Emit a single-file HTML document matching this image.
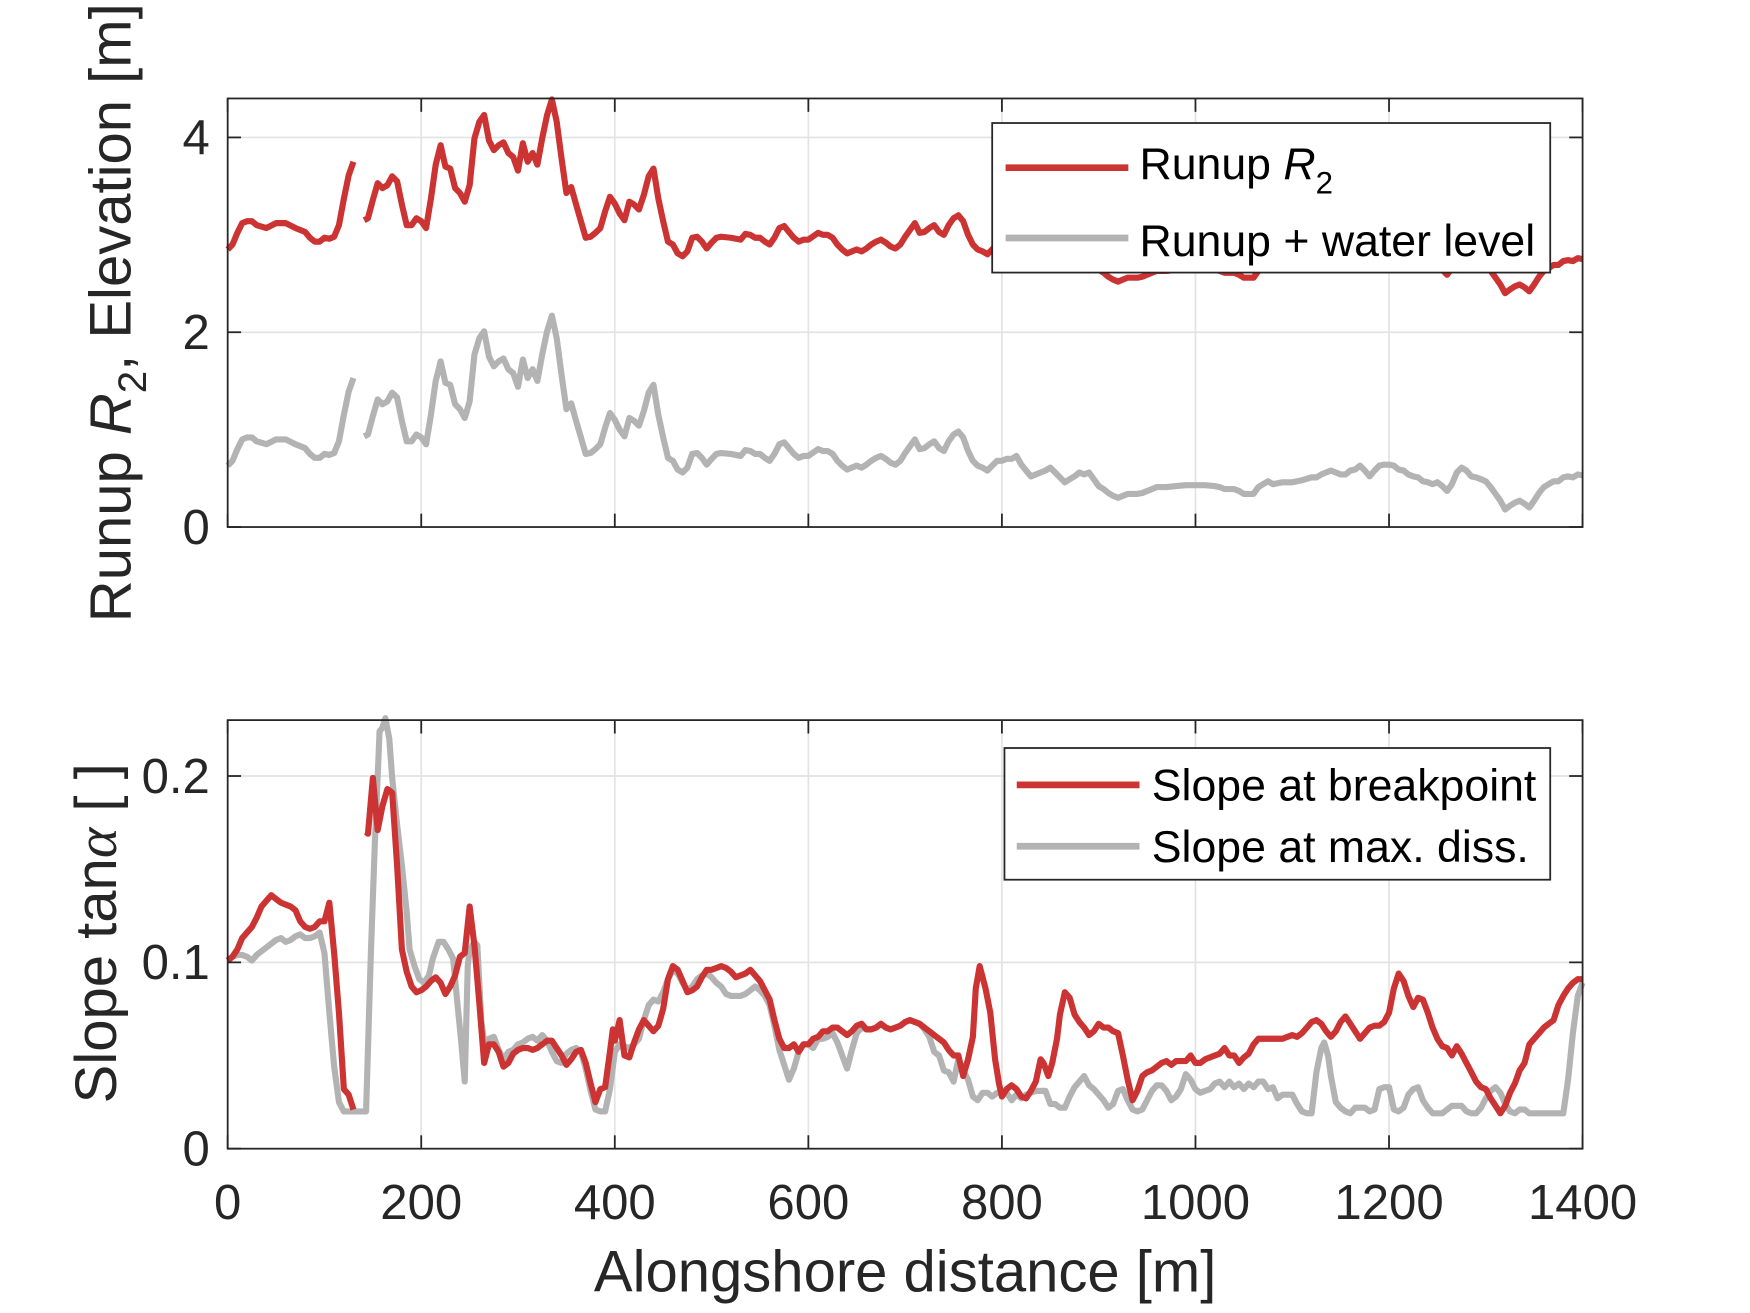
<!DOCTYPE html>
<html><head><meta charset="utf-8"><style>
html,body{margin:0;padding:0;background:#fff;}
svg{display:block;font-family:"Liberation Sans",sans-serif;}
</style></head><body>
<svg id="fig" width="1750" height="1313" viewBox="0 0 1568 1176" xmlns="http://www.w3.org/2000/svg">
<rect x="0" y="0" width="1568" height="1176" fill="#fff"/>
<g id="top"></g>
<g id="bot"></g>
</svg>
<script>
const xTicks = [0,200,400,600,800,1000,1200,1400];
const xTickLabels = ["0","200","400","600","800","1000","1200","1400"];
const topYTicks = [0,2,4];
const topYTickLabels = ["0","2","4"];
const botYTicks = [0,0.1,0.2];
const botYTickLabels = ["0","0.1","0.2"];

const topX = [0,5,10,15,20,25,30,40,50,60,70,80,85,90,95,100,105,110,115,120,125,130,135,141,145,
150,155,160,165,170,175,180,185,190,195,200,205,210,215,220,225,230,235,240,245,250,255,260,265,270,275,280,285,290,295,300,305,310,315,320,325,330,335,340,345,350,355,360,365,370,375,380,385,390,395,400,405,410,415,420,425,430,435,440,445,450,455,460,465,470,475,480,485,490,495,500,505,510,
520,530,535,540,545,550,555,560,565,570,575,580,585,590,595,600,610,615,620,625,630,635,640,
650,655,660,665,670,675,680,685,690,695,700,
710,715,720,725,730,735,740,745,750,755,760,765,770,775,780,785,790,795,800,805,810,815,820,825,830,835,840,845,850,855,860,865,870,875,880,885,890,895,900,905,910,915,920,925,930,935,940,945,950,955,960,965,970,
980,990,1000,1010,1020,1025,1030,1040,1045,1050,1055,1060,1065,1070,1075,1080,1090,1100,1110,1120,
1125,1130,1135,1140,1145,1150,1155,1160,1165,1170,1175,1180,1185,1190,1195,1200,1205,1210,1215,1220,1225,1230,1235,1240,1245,1250,1255,1260,1265,1270,1275,1280,1285,1290,1295,1300,1305,1310,1315,1320,1325,1330,1335,1340,1345,1350,1355,1360,1365,1370,1375,1380,1385,1390,1395,1400];
const runupR2 = [2.85,2.90,3.02,3.12,3.14,3.14,3.10,3.07,3.12,3.12,3.07,3.03,2.97,2.93,2.93,2.97,2.96,2.98,3.10,3.37,3.61,3.75,null,3.15,3.17,
3.36,3.53,3.48,3.51,3.60,3.55,3.31,3.10,3.10,3.17,3.14,3.07,3.37,3.72,3.92,3.70,3.68,3.48,3.43,3.34,3.51,3.99,4.16,4.23,3.97,3.87,3.92,3.95,3.84,3.80,3.66,3.94,3.75,3.84,3.72,3.99,4.23,4.39,4.16,3.78,3.43,3.49,3.31,3.14,2.97,2.98,3.02,3.07,3.24,3.39,3.32,3.22,3.15,3.34,3.31,3.26,3.41,3.60,3.68,3.37,3.14,2.93,2.90,2.81,2.78,2.83,2.97,2.98,2.93,2.86,2.92,2.97,2.98,
2.97,2.95,3.01,3.00,2.97,2.97,2.93,2.90,2.97,3.07,3.09,3.03,2.97,2.93,2.95,2.95,3.02,3.00,3.00,2.97,2.90,2.85,2.81,
2.85,2.83,2.86,2.90,2.93,2.95,2.92,2.88,2.86,2.90,2.98,
3.12,3.02,3.03,3.07,3.10,3.03,3.00,3.10,3.17,3.20,3.14,3.00,2.90,2.85,2.83,2.80,2.85,2.90,2.90,2.92,2.92,2.95,2.86,2.80,2.74,2.76,2.78,2.80,2.83,2.78,2.73,2.68,2.71,2.74,2.78,2.76,2.78,2.71,2.64,2.61,2.57,2.54,2.52,2.54,2.56,2.56,2.56,2.57,2.59,2.61,2.63,2.63,2.63,
2.64,2.65,2.65,2.65,2.64,2.63,2.61,2.61,2.59,2.56,2.56,2.56,2.63,2.66,2.69,2.66,2.68,2.68,2.70,2.73,
2.73,2.76,2.78,2.80,2.78,2.76,2.76,2.80,2.81,2.85,2.80,2.74,2.80,2.85,2.86,2.86,2.85,2.81,2.80,2.76,2.74,2.73,2.69,2.68,2.66,2.68,2.64,2.59,2.66,2.78,2.83,2.80,2.74,2.73,2.71,2.69,2.63,2.56,2.49,2.40,2.44,2.47,2.49,2.46,2.42,2.49,2.57,2.63,2.66,2.69,2.69,2.73,2.74,2.73,2.76,2.75];
const runupWL = [0.63,0.68,0.80,0.90,0.92,0.92,0.88,0.85,0.90,0.90,0.85,0.81,0.75,0.71,0.71,0.75,0.74,0.76,0.88,1.15,1.39,1.53,null,0.93,0.95,
1.14,1.31,1.26,1.29,1.38,1.33,1.09,0.88,0.88,0.95,0.92,0.85,1.15,1.50,1.70,1.48,1.46,1.26,1.21,1.12,1.29,1.77,1.94,2.01,1.75,1.65,1.70,1.73,1.62,1.58,1.44,1.72,1.53,1.62,1.50,1.77,2.01,2.17,1.94,1.56,1.21,1.27,1.09,0.92,0.75,0.76,0.80,0.85,1.02,1.17,1.10,1.00,0.93,1.12,1.09,1.04,1.19,1.38,1.46,1.15,0.92,0.71,0.68,0.59,0.56,0.61,0.75,0.76,0.71,0.64,0.70,0.75,0.76,
0.75,0.73,0.79,0.78,0.75,0.75,0.71,0.68,0.75,0.85,0.87,0.81,0.75,0.71,0.73,0.73,0.80,0.78,0.78,0.75,0.68,0.63,0.59,
0.63,0.61,0.64,0.68,0.71,0.73,0.70,0.66,0.64,0.68,0.76,
0.90,0.80,0.81,0.85,0.88,0.81,0.78,0.88,0.95,0.98,0.92,0.78,0.68,0.63,0.61,0.58,0.63,0.68,0.68,0.70,0.70,0.73,0.64,0.58,0.52,0.54,0.56,0.58,0.61,0.56,0.51,0.46,0.49,0.52,0.56,0.54,0.56,0.49,0.42,0.39,0.35,0.32,0.30,0.32,0.34,0.34,0.34,0.35,0.37,0.39,0.41,0.41,0.41,
0.42,0.43,0.43,0.43,0.42,0.41,0.39,0.39,0.37,0.34,0.34,0.34,0.41,0.44,0.47,0.44,0.46,0.46,0.48,0.51,
0.51,0.54,0.56,0.58,0.56,0.54,0.54,0.58,0.59,0.63,0.58,0.52,0.58,0.63,0.64,0.64,0.63,0.59,0.58,0.54,0.52,0.51,0.47,0.46,0.44,0.46,0.42,0.37,0.44,0.56,0.61,0.58,0.52,0.51,0.49,0.47,0.41,0.34,0.27,0.18,0.22,0.25,0.27,0.24,0.20,0.27,0.35,0.41,0.44,0.47,0.47,0.51,0.52,0.51,0.54,0.53];

const slopeBpX = [0,5,10,15,20,25,30,35,40,45,50,55,60,65,70,75,80,85,90,95,100,105,110,115,120,125,130,137,143,145,
150,155,160,165,170,175,180,185,190,195,200,205,210,215,220,225,230,235,240,245,250,255,260,265,270,275,280,285,290,295,300,305,310,315,320,325,330,335,340,345,350,355,360,365,370,375,380,385,390,395,398,
400,405,410,415,420,425,430,435,440,445,450,455,460,465,470,475,480,485,490,495,500,505,510,515,520,525,530,535,540,545,550,555,560,565,570,575,580,585,590,595,600,605,610,615,620,625,630,635,640,645,650,655,660,665,670,675,680,685,690,695,700,705,710,715,720,725,730,735,740,745,750,755,760,765,770,
773,777,783,788,793,797,800,805,810,815,820,825,830,835,840,843,848,852,857,860,865,870,875,880,885,890,895,900,905,910,915,920,925,930,935,940,945,950,955,960,965,970,975,980,985,990,995,1000,1005,1010,1015,1020,1025,1030,1035,1040,1045,1050,1055,1060,1065,
1070,1075,1080,1085,1090,1095,1100,1105,1110,1115,1120,1125,1130,1135,1140,1145,1150,1155,1160,1165,1170,1175,1180,1185,1190,1195,1200,1205,1210,1215,1220,1225,1230,1235,1240,1245,1250,1255,1260,1265,1270,1275,1280,1285,1290,1295,1300,1305,1310,1315,1320,1325,1330,1335,1340,1345,1350,1355,1360,1365,1370,1375,1380,1385,1390,1395,1400];
const slopeBp = [0.101,0.103,0.107,0.113,0.116,0.119,0.124,0.130,0.133,0.136,0.134,0.132,0.131,0.130,0.128,0.122,0.119,0.118,0.119,0.122,0.122,0.132,0.105,0.073,0.032,0.029,0.021,null,0.170,0.169,
0.199,0.171,0.184,0.193,0.191,0.152,0.107,0.095,0.087,0.084,0.085,0.087,0.090,0.092,0.089,0.083,0.087,0.093,0.103,0.105,0.130,0.109,0.078,0.046,0.056,0.056,0.052,0.044,0.046,0.051,0.053,0.054,0.054,0.053,0.054,0.056,0.058,0.058,0.054,0.050,0.045,0.048,0.052,0.053,0.046,0.035,0.025,0.032,0.033,0.052,0.064,
0.058,0.069,0.050,0.049,0.057,0.064,0.069,0.066,0.063,0.066,0.075,0.091,0.098,0.096,0.090,0.084,0.085,0.087,0.092,0.096,0.096,0.097,0.098,0.097,0.095,0.092,0.093,0.094,0.096,0.093,0.090,0.085,0.080,0.069,0.059,0.054,0.054,0.056,0.052,0.056,0.056,0.059,0.060,0.063,0.063,0.065,0.065,0.063,0.061,0.063,0.066,0.067,0.064,0.064,0.065,0.067,0.065,0.064,0.065,0.066,0.068,0.069,0.068,0.067,0.065,0.063,0.061,0.059,0.057,0.053,0.050,0.050,0.039,0.048,0.060,
0.086,0.098,0.086,0.073,0.048,0.035,0.028,0.032,0.034,0.032,0.028,0.027,0.031,0.036,0.048,0.046,0.039,0.046,0.059,0.072,0.084,0.081,0.072,0.068,0.065,0.061,0.063,0.067,0.065,0.065,0.063,0.062,0.050,0.037,0.026,0.031,0.039,0.041,0.042,0.044,0.046,0.047,0.045,0.047,0.047,0.047,0.050,0.046,0.046,0.048,0.049,0.050,0.051,0.054,0.050,0.050,0.046,0.049,0.051,0.056,0.059,
0.059,0.059,0.059,0.059,0.059,0.060,0.061,0.060,0.062,0.065,0.068,0.069,0.067,0.063,0.060,0.063,0.068,0.071,0.067,0.063,0.059,0.062,0.065,0.066,0.066,0.068,0.073,0.086,0.094,0.090,0.082,0.076,0.081,0.080,0.073,0.065,0.059,0.055,0.054,0.050,0.055,0.051,0.046,0.041,0.036,0.033,0.032,0.027,0.023,0.019,0.023,0.030,0.035,0.042,0.046,0.056,0.059,0.062,0.065,0.067,0.069,0.077,0.082,0.086,0.089,0.091,0.091];

const slopeMdX = [0,5,10,15,20,25,30,35,40,45,50,55,60,65,70,75,80,85,90,95,100,105,110,115,120,125,130,135,140,143,148,152,157,160,163,167,170,175,180,185,188,193,198,203,208,212,218,223,228,233,237,241,245,248,250,255,258,262,
265,270,275,280,285,290,295,300,305,310,315,320,325,330,335,340,345,350,355,360,365,370,375,380,385,390,395,400,405,410,415,420,425,430,435,440,445,450,455,460,465,470,475,480,485,490,495,500,505,510,515,520,525,530,535,540,545,550,555,560,565,570,575,580,585,590,595,600,605,610,615,620,625,630,635,640,645,650,655,660,665,670,675,680,685,690,695,700,705,710,715,720,725,730,735,740,745,750,755,760,765,770,775,780,785,790,795,800,805,810,815,820,825,830,835,840,845,850,855,860,865,870,875,880,885,890,895,900,905,910,915,920,925,930,935,940,945,950,955,960,965,970,975,980,985,990,995,1000,1005,1010,1015,1020,1025,1030,1035,1040,1045,1050,1055,1060,1065,1070,1075,1080,1085,1090,1095,1100,1105,1110,1115,1120,1125,1130,1133,1137,1140,1145,1150,1155,1160,1165,1170,1175,1180,1185,1190,1195,1200,1205,1210,1215,1220,1225,1230,1235,1240,1245,1250,1255,1260,1265,1270,1275,1280,1285,1290,1295,1300,1305,1310,1315,1320,1325,1330,1335,1340,1345,1350,1360,1370,1380,1385,1390,1395,1400];
const slopeMd = [0.101,0.103,0.104,0.104,0.103,0.101,0.104,0.106,0.108,0.110,0.112,0.113,0.111,0.112,0.114,0.115,0.113,0.113,0.114,0.116,0.105,0.073,0.044,0.025,0.020,0.020,0.020,0.020,0.020,0.020,0.105,0.163,0.224,0.226,0.231,0.220,0.199,0.174,0.152,0.127,0.107,0.098,0.091,0.089,0.093,0.102,0.111,0.111,0.107,0.102,0.080,0.059,0.036,0.098,0.107,0.111,0.109,0.069,
0.057,0.059,0.060,0.053,0.048,0.052,0.053,0.056,0.057,0.059,0.060,0.058,0.061,0.058,0.052,0.047,0.046,0.051,0.053,0.054,0.052,0.043,0.031,0.021,0.020,0.020,0.032,0.052,0.056,0.055,0.054,0.056,0.059,0.069,0.077,0.080,0.079,0.084,0.091,0.096,0.094,0.089,0.085,0.087,0.091,0.093,0.094,0.092,0.089,0.087,0.083,0.082,0.082,0.082,0.083,0.085,0.087,0.085,0.082,0.077,0.066,0.053,0.045,0.037,0.043,0.052,0.056,0.056,0.054,0.059,0.059,0.060,0.062,0.057,0.050,0.043,0.053,0.062,0.065,0.064,0.064,0.065,0.067,0.065,0.064,0.065,0.066,0.068,0.069,0.068,0.067,0.064,0.060,0.052,0.050,0.042,0.041,0.036,0.048,0.042,0.037,0.028,0.026,0.030,0.030,0.028,0.030,0.030,0.030,0.026,0.029,0.027,0.029,0.030,0.031,0.031,0.031,0.024,0.024,0.022,0.022,0.028,0.033,0.036,0.039,0.034,0.032,0.029,0.026,0.022,0.024,0.031,0.032,0.026,0.021,0.020,0.021,0.026,0.031,0.034,0.034,0.031,0.026,0.028,0.032,0.040,0.037,0.032,0.030,0.031,0.032,0.035,0.036,0.033,0.036,0.033,0.035,0.032,0.035,0.033,0.036,0.036,0.032,0.033,0.027,0.029,0.029,0.029,0.024,0.020,0.019,0.019,0.041,0.054,0.057,0.050,0.039,0.025,0.022,0.020,0.019,0.022,0.022,0.022,0.020,0.021,0.032,0.033,0.033,0.021,0.020,0.022,0.029,0.032,0.033,0.026,0.022,0.019,0.019,0.019,0.021,0.023,0.023,0.023,0.020,0.019,0.019,0.022,0.027,0.031,0.033,0.030,0.024,0.020,0.019,0.021,0.021,0.019,0.019,0.019,0.019,0.019,0.037,0.062,0.082,0.089];

const NS = "http://www.w3.org/2000/svg";
const X0 = 204, X1 = 1418;
function mk(tag, attrs, parent){
  const e = document.createElementNS(NS, tag);
  for (const k in attrs) e.setAttribute(k, attrs[k]);
  parent.appendChild(e);
  return e;
}
const xScale = v => X0 + (v / 1400) * (X1 - X0);

function drawAxes(g, top, bot, ymax, yTicks){
  const yScale = v => bot - (v / ymax) * (bot - top);
  mk('rect', {x:X0, y:top, width:X1-X0, height:bot-top, fill:'#fff'}, g);
  xTicks.forEach(t => {
    if (t > 0 && t < 1400) {
      const gl = mk('line', {x1:xScale(t), x2:xScale(t), y1:top, y2:bot, stroke:'#e3e3e3', 'stroke-width':1.5}, g);
      
      
    }
  });
  yTicks.forEach(t => {
    if (t > 0) {
      const gl = mk('line', {x1:X0, x2:X1, y1:yScale(t), y2:yScale(t), stroke:'#e3e3e3', 'stroke-width':1.5}, g);
      
      
    }
  });
  return yScale;
}
function drawFrame(g, top, bot, yScale, yTicks, yLabels, showX){
  const fr = mk('rect', {x:X0, y:top, width:X1-X0, height:bot-top, fill:'none', stroke:'#262626', 'stroke-width':1.6}, g);
  
  
  xTicks.forEach((t, i) => {
    const x = xScale(t);
    mk('line', {x1:x, x2:x, y1:bot, y2:bot-12, stroke:'#262626', 'stroke-width':1.6}, g);
    mk('line', {x1:x, x2:x, y1:top, y2:top+12, stroke:'#262626', 'stroke-width':1.6}, g);
    if (showX) {
      const tx = mk('text', {x:x, y:bot+63, 'font-size':44, 'text-anchor':'middle', fill:'#262626'}, g);
      tx.textContent = xTickLabels[i];
      
      
    }
  });
  yTicks.forEach((t, i) => {
    const y = yScale(t);
    mk('line', {x1:X0, x2:X0+12, y1:y, y2:y, stroke:'#262626', 'stroke-width':1.6}, g);
    mk('line', {x1:X1, x2:X1-12, y1:y, y2:y, stroke:'#262626', 'stroke-width':1.6}, g);
    const ty = mk('text', {x:188, y:y+15, 'font-size':44, 'text-anchor':'end', fill:'#262626'}, g);
    ty.textContent = yLabels[i];
    
    
  });
}
function drawLine(g, xs, ys, yScale, color, name){
  let d = '', pen = false;
  for (let i = 0; i < xs.length; i++) {
    if (ys[i] === null) { pen = false; continue; }
    d += (pen ? 'L' : 'M') + xScale(xs[i]).toFixed(1) + ' ' + yScale(ys[i]).toFixed(1);
    pen = true;
  }
  const p = mk('path', {d:d, fill:'none', stroke:color, 'stroke-width':5.5, 'stroke-linejoin':'round'}, g);
  
  
}
const RED = '#cc3333', GREY = '#b3b3b3';

const gt = document.getElementById('top');
const ysT = drawAxes(gt, 88, 472, 4.4, topYTicks);
drawLine(gt, topX, runupR2, ysT, RED, 'runup-r2-line');
drawLine(gt, topX, runupWL, ysT, GREY, 'runup-water-level-line');
drawFrame(gt, 88, 472, ysT, topYTicks, topYTickLabels, false);

const gb = document.getElementById('bot');
const ysB = drawAxes(gb, 645, 1029, 0.23, botYTicks);
drawLine(gb, slopeMdX, slopeMd, ysB, GREY, 'slope-max-diss-line');
drawLine(gb, slopeBpX, slopeBp, ysB, RED, 'slope-breakpoint-line');
drawFrame(gb, 645, 1029, ysB, botYTicks, botYTickLabels, true);
</script>
<svg style="position:absolute;left:0;top:0" width="1750" height="1313" viewBox="0 0 1568 1176" xmlns="http://www.w3.org/2000/svg" font-family="Liberation Sans, sans-serif">
  <g>
    <rect x="889" y="110" width="500" height="134" fill="#fff" stroke="#262626" stroke-width="1.6"/>
    <line x1="901" y1="150" x2="1011" y2="150" stroke="#cc3333" stroke-width="6"/>
    <text x="1021" y="160" font-size="40" fill="#000">Runup <tspan font-style="italic">R</tspan><tspan font-size="28" dy="13">2</tspan></text>
    <line x1="901" y1="213" x2="1011" y2="213" stroke="#b3b3b3" stroke-width="6"/>
    <text x="1021" y="229" font-size="40" fill="#000">Runup + water level</text>
  </g>
  <g>
    <rect x="900" y="670" width="489" height="118" fill="#fff" stroke="#262626" stroke-width="1.6"/>
    <line x1="911" y1="703" x2="1021" y2="703" stroke="#cc3333" stroke-width="6"/>
    <text x="1032" y="717" font-size="40" fill="#000">Slope at breakpoint</text>
    <line x1="911" y1="758" x2="1021" y2="758" stroke="#b3b3b3" stroke-width="6"/>
    <text x="1032" y="772" font-size="40" fill="#000">Slope at max. diss.</text>
  </g>
  <text transform="translate(117,280) rotate(-90)" text-anchor="middle" font-size="52" fill="#262626">Runup <tspan font-style="italic">R</tspan><tspan font-size="36" dy="14">2</tspan><tspan dy="-14">, Elevation [m]</tspan></text>
  <text transform="translate(104,836) rotate(-90)" text-anchor="middle" font-size="52" fill="#262626">Slope tan<tspan font-family="Liberation Serif, serif" font-style="italic">α</tspan> [ ]</text>
  <text x="811" y="1157" text-anchor="middle" font-size="52" fill="#262626">Alongshore distance [m]</text>
</svg>
</body></html>
